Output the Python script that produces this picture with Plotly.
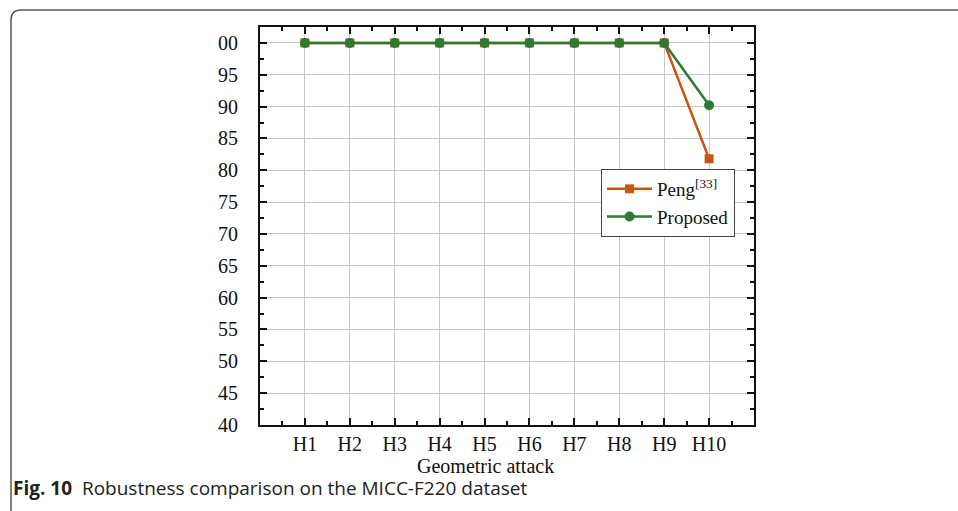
import plotly.graph_objects as go

categories = ["H1", "H2", "H3", "H4", "H5", "H6", "H7", "H8", "H9", "H10"]
peng = [100, 100, 100, 100, 100, 100, 100, 100, 100, 81.8]
proposed = [100, 100, 100, 100, 100, 100, 100, 100, 100, 90.2]
y_ticks = [40, 45, 50, 55, 60, 65, 70, 75, 80, 85, 90, 95, 100]
y_tick_labels = ["40", "45", "50", "55", "60", "65", "70", "75", "80", "85", "90", "95", "00"]

xpos = list(range(1, len(categories) + 1))

W, H = 958, 511
L, R, T, B = 260, 754, 27, 425

def px(x):
    return (x - L) / (R - L)

def py(y):
    return (B - y) / (B - T)

fig = go.Figure()
fig.add_trace(go.Scatter(
    x=xpos, y=peng, name="Peng<sup>[33]</sup>", mode="lines+markers",
    line=dict(color="#C4580F", width=2.5),
    marker=dict(symbol="square", size=9, color="#C4580F"),
))
fig.add_trace(go.Scatter(
    x=xpos, y=proposed, name="Proposed", mode="lines+markers",
    line=dict(color="#2F7A32", width=2.5),
    marker=dict(symbol="circle", size=10, color="#2F7A32"),
))

font_serif = "Liberation Serif, Times New Roman, serif"

fig.update_layout(
    width=W, height=H,
    margin=dict(l=L, r=W - R, t=T, b=H - B),
    paper_bgcolor="white", plot_bgcolor="white",
    font=dict(family=font_serif, size=20, color="#111"),
    showlegend=True,
    legend=dict(
        x=px(601), y=py(169), xanchor="left", yanchor="top",
        bgcolor="white", bordercolor="#444", borderwidth=1,
        font=dict(family=font_serif, size=19, color="#111"),
        itemwidth=45, tracegroupgap=0,
    ),
    xaxis=dict(
        range=[0, 11], tickmode="array", tickvals=xpos, ticktext=categories,
        showgrid=True, gridcolor="#c8c8c8", gridwidth=1,
        showline=True, linecolor="#111", linewidth=2, mirror="ticks",
        ticks="inside", ticklen=7, tickwidth=2, tickcolor="#111",
        minor=dict(tick0=0.5, dtick=1,
                   ticks="inside", ticklen=4, tickwidth=2, tickcolor="#111", showgrid=False),
        zeroline=False,
        tickfont=dict(family=font_serif, size=20),
    ),
    yaxis=dict(
        range=[40, 102.5], tickmode="array", tickvals=y_ticks, ticktext=y_tick_labels,
        showgrid=True, gridcolor="#c8c8c8", gridwidth=1,
        showline=True, linecolor="#111", linewidth=2, mirror="ticks",
        ticks="inside", ticklen=7, tickwidth=2, tickcolor="#111",
        ticklabelstandoff=16,
        minor=dict(tick0=42.5, dtick=5,
                   ticks="inside", ticklen=4, tickwidth=2, tickcolor="#111", showgrid=False),
        zeroline=False,
        tickfont=dict(family=font_serif, size=20),
    ),
)

# axis title (slightly left of centre, as in the original)
fig.add_annotation(
    xref="paper", yref="paper", x=px(485), y=py(466), xanchor="center", yanchor="middle",
    text="Geometric attack", showarrow=False,
    font=dict(family=font_serif, size=20, color="#111"),
)

# rounded frame around the figure
x0, y0 = px(11), py(511)
ytop = py(10)
xc, yc = px(21), py(20)
x1 = px(958)
fig.add_shape(
    type="path", xref="paper", yref="paper",
    path=f"M {x0},{y0} L {x0},{yc} Q {x0},{ytop} {xc},{ytop} L {x1},{ytop}",
    line=dict(color="#555", width=1.5),
)

fig.add_annotation(
    xref="paper", yref="paper", x=px(11), y=py(488), xanchor="left", yanchor="middle",
    text="<b>Fig. 10</b>  Robustness comparison on the MICC-F220 dataset",
    showarrow=False, font=dict(family="Open Sans, Noto Sans, sans-serif", size=19, color="#222"),
)

fig.write_html("out.html")
